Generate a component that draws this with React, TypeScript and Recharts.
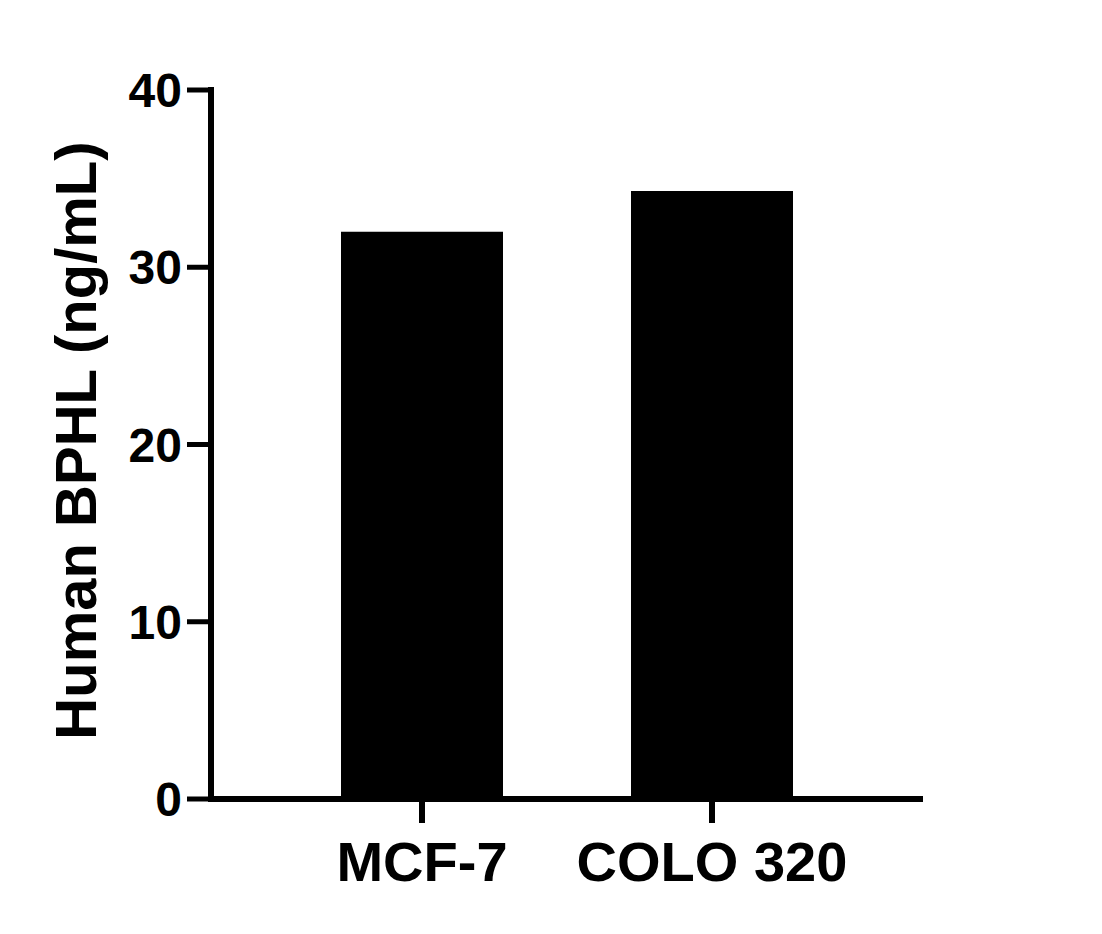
import React from 'react';
import { BarChart, Bar, XAxis, YAxis } from 'recharts';

// Values
const cellLines = ['MCF-7', 'COLO 320'];
const bphlValues = [32.0, 34.3];
const yTicks = [0, 10, 20, 30, 40];

const FONT = '"Liberation Sans", Arial, Helvetica, sans-serif';

const chartData = cellLines.map((name, i) => ({ name, value: bphlValues[i] }));

const YLabel = ({ viewBox }: any) => {
  const cy = viewBox.y + viewBox.height / 2 - 4;
  const bx = 96;
  return (
    <text
      x={bx}
      y={cy}
      transform={`rotate(-90, ${bx}, ${cy})`}
      textAnchor="middle"
      fontFamily={FONT}
      fontWeight="bold"
      fontSize={58}
      fill="#000"
    >
      Human BPHL (ng/mL)
    </text>
  );
};

export default function App() {
  return (
    <div style={{ position: 'absolute', left: 0, top: 0, background: '#fff' }}>
      <BarChart
        width={1102}
        height={934}
        data={chartData}
        margin={{ top: 90, right: 179, bottom: 0, left: 0 }}
      >
        <XAxis
          dataKey="name"
          height={135}
          padding={{ left: 66, right: 66 }}
          axisLine={{ stroke: '#000', strokeWidth: 6 }}
          tickLine={{ stroke: '#000', strokeWidth: 6 }}
          tickSize={24}
          tickMargin={18}
          tick={{ fill: '#000', fontFamily: FONT, fontWeight: 'bold', fontSize: 56 }}
          interval={0}
        />
        <YAxis
          width={211}
          domain={[0, 40]}
          ticks={yTicks}
          allowDataOverflow
          axisLine={{ stroke: '#000', strokeWidth: 6, strokeLinecap: 'square' }}
          tickLine={{ stroke: '#000', strokeWidth: 5 }}
          tickSize={24}
          tickMargin={5}
          tick={{ fill: '#000', fontFamily: FONT, fontWeight: 'bold', fontSize: 48 }}
          label={<YLabel />}
        />
        <Bar dataKey="value" fill="#000" barSize={162} isAnimationActive={false} />
      </BarChart>
    </div>
  );
}
